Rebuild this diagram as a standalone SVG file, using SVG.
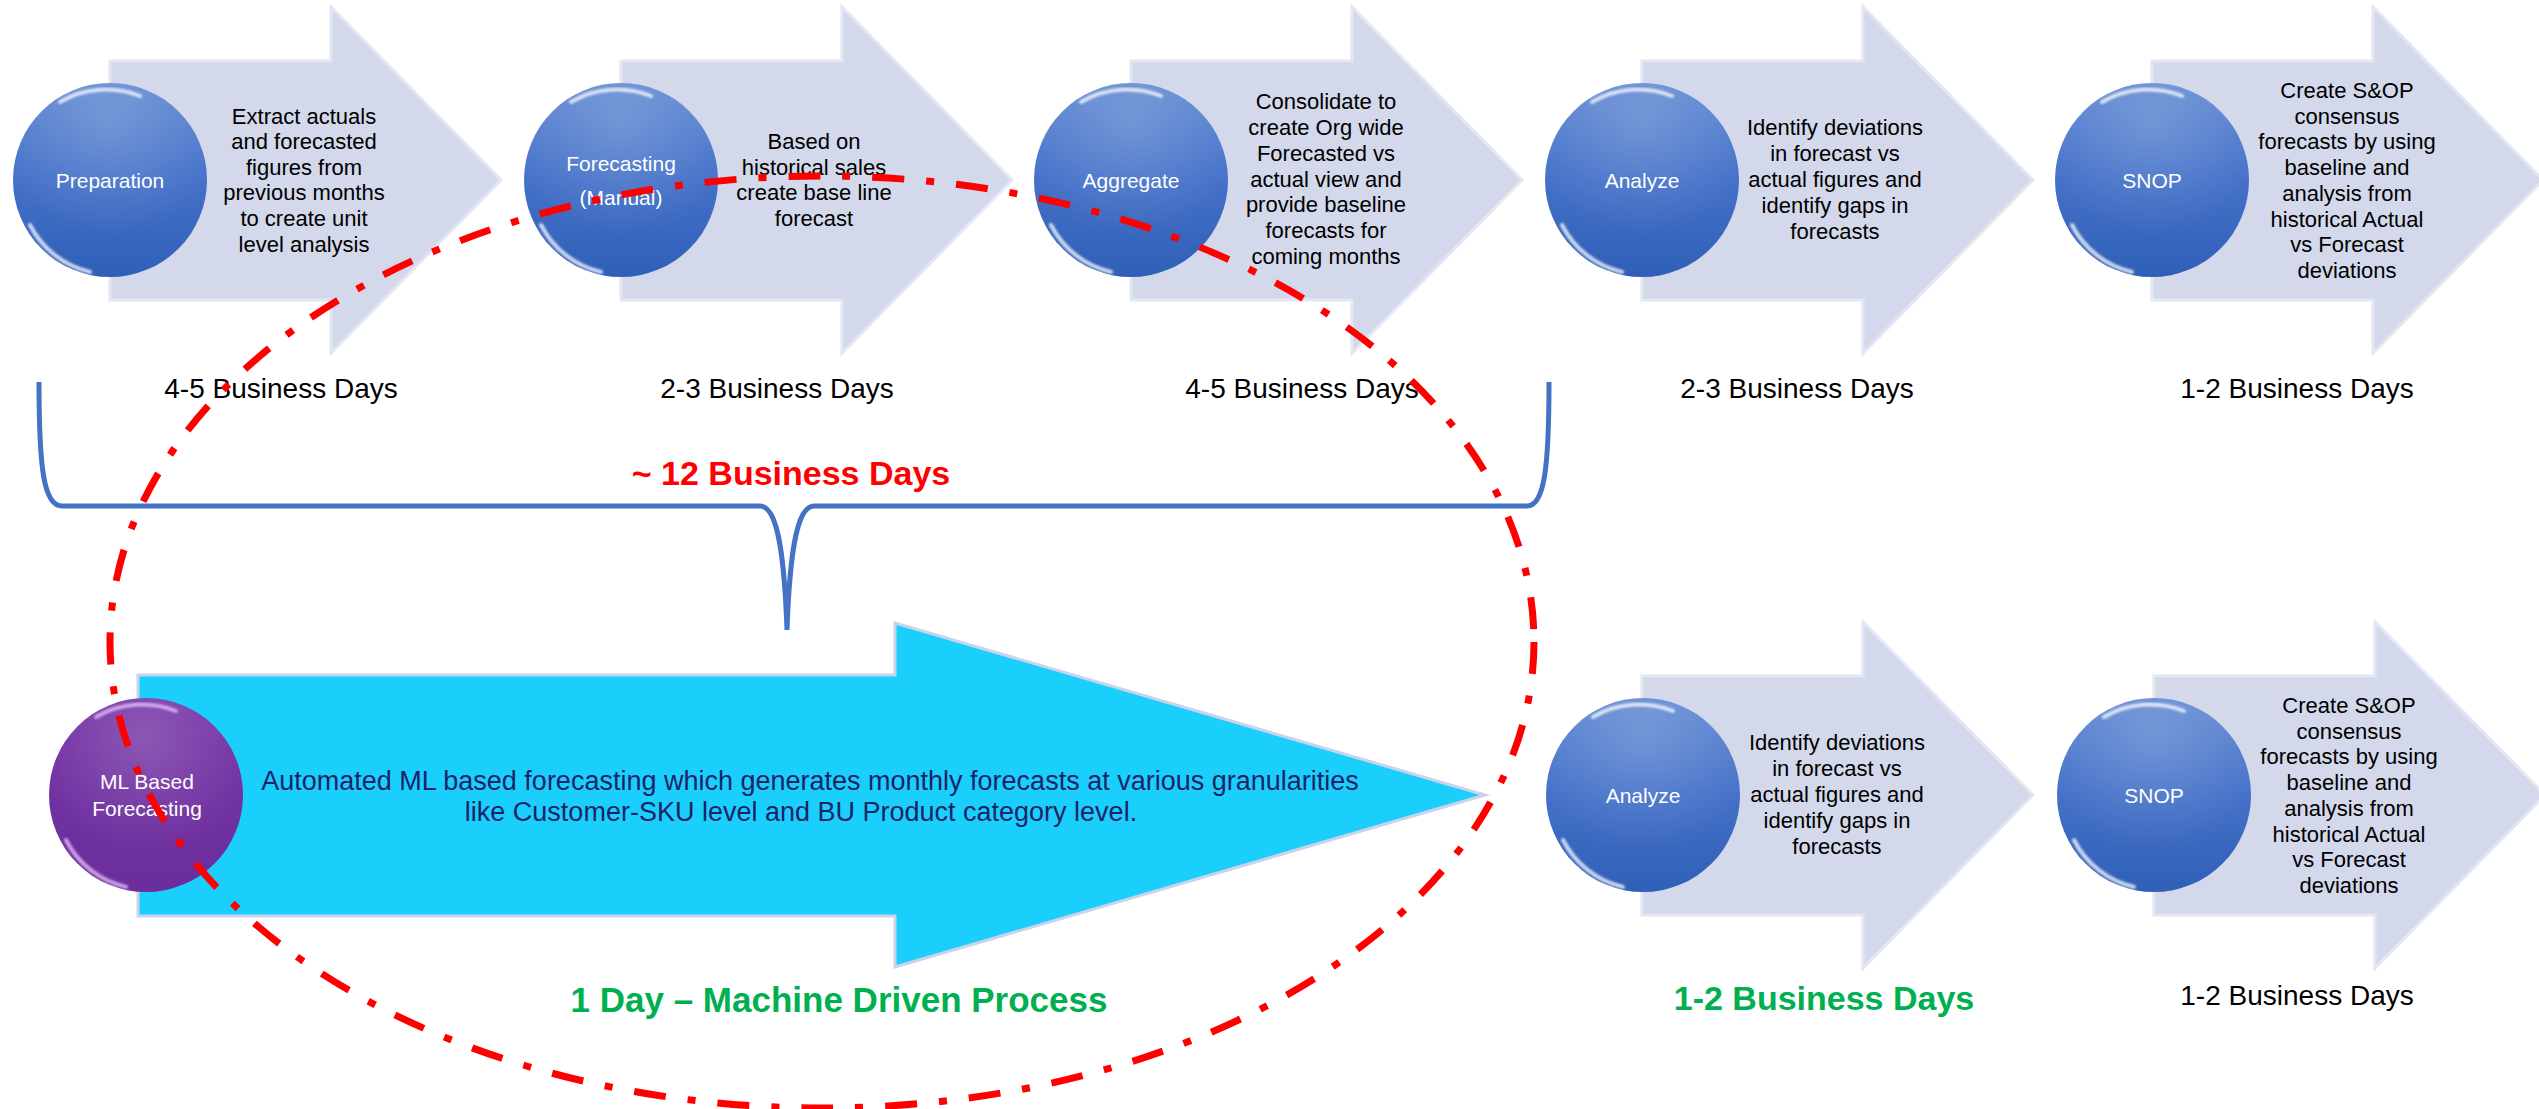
<svg xmlns="http://www.w3.org/2000/svg" width="2539" height="1109" viewBox="0 0 2539 1109">
<defs>
<style>
text{font-family:"Liberation Sans",Arial,sans-serif;text-anchor:middle}
.arrow{fill:#D3D8EA;stroke:#E3E6F3;stroke-width:3;stroke-linejoin:miter}
.desc{font-size:22px;fill:#000}
.clabel{font-size:21px;fill:#FFFFFF}
.days{font-size:28px;fill:#000}
.ball{fill:url(#blueBall)}
.gloss{fill:none;stroke:#FFFFFF;stroke-width:4;stroke-linecap:round;opacity:0.75;filter:url(#soft)}
.sheen{fill:url(#sheen)}
</style>
<linearGradient id="blueBall" x1="0" y1="0" x2="0" y2="1">
<stop offset="0" stop-color="#5F87D2"/>
<stop offset="0.5" stop-color="#4471C8"/>
<stop offset="1" stop-color="#2F5FB7"/>
</linearGradient>
<linearGradient id="purpleBall" x1="0" y1="0" x2="0" y2="1">
<stop offset="0" stop-color="#7533A6"/>
<stop offset="1" stop-color="#6C2E9C"/>
</linearGradient>
<radialGradient id="sheen" cx="0.5" cy="0.2" r="0.6">
<stop offset="0" stop-color="#FFFFFF" stop-opacity="0.18"/>
<stop offset="1" stop-color="#FFFFFF" stop-opacity="0"/>
</radialGradient>
<filter id="soft" x="-20%" y="-20%" width="140%" height="140%">
<feGaussianBlur stdDeviation="1.2"/>
</filter>
</defs>
<rect width="2539" height="1109" fill="#FFFFFF"/>

<!-- Top row -->
<g id="node-preparation">
<path class="arrow" d="M110,61 H331 V7 L501,180 L331,353 V300 H110 Z"/>
<circle class="ball" cx="110" cy="180" r="97"/>
<circle class="sheen" cx="110" cy="180" r="97"/>
<path class="gloss" d="M30,225 A90,90 0 0 0 90,272"/>
<path class="gloss" d="M60,102 A92,92 0 0 1 140,96" opacity="0.4"/>
<text class="clabel" x="110" y="188">Preparation</text>
<text class="desc"><tspan x="304" y="124">Extract actuals</tspan><tspan x="304" y="149">and forecasted</tspan><tspan x="304" y="175">figures from</tspan><tspan x="304" y="200">previous months</tspan><tspan x="304" y="226">to create unit</tspan><tspan x="304" y="252">level analysis</tspan></text>
<text class="days" x="281" y="398">4-5 Business Days</text>
</g>

<g id="node-forecasting">
<path class="arrow" d="M621,61 H842 V7 L1012,180 L842,353 V300 H621 Z"/>
<circle class="ball" cx="621" cy="180" r="97"/>
<circle class="sheen" cx="621" cy="180" r="97"/>
<path class="gloss" d="M541,225 A90,90 0 0 0 601,272"/>
<path class="gloss" d="M571,102 A92,92 0 0 1 651,96" opacity="0.4"/>
<text class="clabel"><tspan x="621" y="171">Forecasting</tspan><tspan x="621" y="205">(Manual)</tspan></text>
<text class="desc"><tspan x="814" y="149">Based on</tspan><tspan x="814" y="175">historical sales</tspan><tspan x="814" y="200">create base line</tspan><tspan x="814" y="226">forecast</tspan></text>
<text class="days" x="777" y="398">2-3 Business Days</text>
</g>

<g id="node-aggregate">
<path class="arrow" d="M1131,61 H1352 V7 L1522,180 L1352,353 V300 H1131 Z"/>
<circle class="ball" cx="1131" cy="180" r="97"/>
<circle class="sheen" cx="1131" cy="180" r="97"/>
<path class="gloss" d="M1051,225 A90,90 0 0 0 1111,272"/>
<path class="gloss" d="M1081,102 A92,92 0 0 1 1161,96" opacity="0.4"/>
<text class="clabel" x="1131" y="188">Aggregate</text>
<text class="desc"><tspan x="1326" y="109">Consolidate to</tspan><tspan x="1326" y="135">create Org wide</tspan><tspan x="1326" y="161">Forecasted vs</tspan><tspan x="1326" y="187">actual view and</tspan><tspan x="1326" y="212">provide baseline</tspan><tspan x="1326" y="238">forecasts for</tspan><tspan x="1326" y="264">coming months</tspan></text>
<text class="days" x="1302" y="398">4-5 Business Days</text>
</g>

<g id="node-analyze-top">
<path class="arrow" d="M1642,61 H1863 V7 L2033,180 L1863,353 V300 H1642 Z"/>
<circle class="ball" cx="1642" cy="180" r="97"/>
<circle class="sheen" cx="1642" cy="180" r="97"/>
<path class="gloss" d="M1562,225 A90,90 0 0 0 1622,272"/>
<path class="gloss" d="M1592,102 A92,92 0 0 1 1672,96" opacity="0.4"/>
<text class="clabel" x="1642" y="188">Analyze</text>
<text class="desc"><tspan x="1835" y="135">Identify deviations</tspan><tspan x="1835" y="161">in forecast vs</tspan><tspan x="1835" y="187">actual figures and</tspan><tspan x="1835" y="213">identify gaps in</tspan><tspan x="1835" y="239">forecasts</tspan></text>
<text class="days" x="1797" y="398">2-3 Business Days</text>
</g>

<g id="node-snop-top">
<path class="arrow" d="M2152,61 H2373 V7 L2543,180 L2373,353 V300 H2152 Z"/>
<circle class="ball" cx="2152" cy="180" r="97"/>
<circle class="sheen" cx="2152" cy="180" r="97"/>
<path class="gloss" d="M2072,225 A90,90 0 0 0 2132,272"/>
<path class="gloss" d="M2102,102 A92,92 0 0 1 2182,96" opacity="0.4"/>
<text class="clabel" x="2152" y="188">SNOP</text>
<text class="desc"><tspan x="2347" y="98">Create S&amp;OP</tspan><tspan x="2347" y="124">consensus</tspan><tspan x="2347" y="149">forecasts by using</tspan><tspan x="2347" y="175">baseline and</tspan><tspan x="2347" y="201">analysis from</tspan><tspan x="2347" y="227">historical Actual</tspan><tspan x="2347" y="252">vs Forecast</tspan><tspan x="2347" y="278">deviations</tspan></text>
<text class="days" x="2297" y="398">1-2 Business Days</text>
</g>

<!-- Bottom row -->
<g id="node-ml-forecasting">
<path d="M138,675 H895 V623 L1485,795 L895,967 V916 H138 Z" fill="#1ACFFC" stroke="#C9D3EC" stroke-width="3"/>
<text font-size="27" fill="#1B2466"><tspan x="810" y="790">Automated ML based forecasting which generates monthly forecasts at various granularities</tspan><tspan x="801" y="821">like Customer-SKU level and BU Product category level.</tspan></text>
<circle cx="146" cy="795" r="97" fill="url(#purpleBall)"/>
<circle class="sheen" cx="146" cy="795" r="97"/>
<path class="gloss" d="M66,840 A90,90 0 0 0 126,887" style="stroke:#E8C8FF"/>
<path class="gloss" d="M96,717 A92,92 0 0 1 176,711" style="stroke:#E8C8FF" opacity="0.5"/>
<text class="clabel"><tspan x="147" y="789">ML Based</tspan><tspan x="147" y="816">Forecasting</tspan></text>
<text x="839" y="1012" font-size="35" font-weight="bold" fill="#00B050">1 Day – Machine Driven Process</text>
</g>

<g id="node-analyze-bottom">
<path class="arrow" d="M1642,676 H1863 V622 L2033,795 L1863,968 V915 H1642 Z"/>
<circle class="ball" cx="1643" cy="795" r="97"/>
<circle class="sheen" cx="1643" cy="795" r="97"/>
<path class="gloss" d="M1563,840 A90,90 0 0 0 1623,887"/>
<path class="gloss" d="M1593,717 A92,92 0 0 1 1673,711" opacity="0.4"/>
<text class="clabel" x="1643" y="803">Analyze</text>
<text class="desc"><tspan x="1837" y="750">Identify deviations</tspan><tspan x="1837" y="776">in forecast vs</tspan><tspan x="1837" y="802">actual figures and</tspan><tspan x="1837" y="828">identify gaps in</tspan><tspan x="1837" y="854">forecasts</tspan></text>
<text x="1824" y="1010" font-size="34" font-weight="bold" fill="#00B050">1-2 Business Days</text>
</g>

<g id="node-snop-bottom">
<path class="arrow" d="M2154,676 H2375 V622 L2545,795 L2375,968 V915 H2154 Z"/>
<circle class="ball" cx="2154" cy="795" r="97"/>
<circle class="sheen" cx="2154" cy="795" r="97"/>
<path class="gloss" d="M2074,840 A90,90 0 0 0 2134,887"/>
<path class="gloss" d="M2104,717 A92,92 0 0 1 2184,711" opacity="0.4"/>
<text class="clabel" x="2154" y="803">SNOP</text>
<text class="desc"><tspan x="2349" y="713">Create S&amp;OP</tspan><tspan x="2349" y="739">consensus</tspan><tspan x="2349" y="764">forecasts by using</tspan><tspan x="2349" y="790">baseline and</tspan><tspan x="2349" y="816">analysis from</tspan><tspan x="2349" y="842">historical Actual</tspan><tspan x="2349" y="867">vs Forecast</tspan><tspan x="2349" y="893">deviations</tspan></text>
<text class="days" x="2297" y="1005">1-2 Business Days</text>
</g>

<!-- Connectors / annotations -->
<g id="connectors">
<path id="brace" d="M39,382 C39,470 44,506 62,506 H760 C776,506 784,545 787,630 C790,545 798,506 814,506 H1527 C1544,506 1549,470 1549,382" fill="none" stroke="#4472C4" stroke-width="5"/>
<text x="791" y="485" font-size="34" font-weight="bold" fill="#FF0000">~ 12 Business Days</text>
<ellipse id="highlight-ellipse" cx="822" cy="642" rx="712" ry="466" fill="none" stroke="#FF0000" stroke-width="7" stroke-dasharray="32 22 8 22"/>
</g>
</svg>
